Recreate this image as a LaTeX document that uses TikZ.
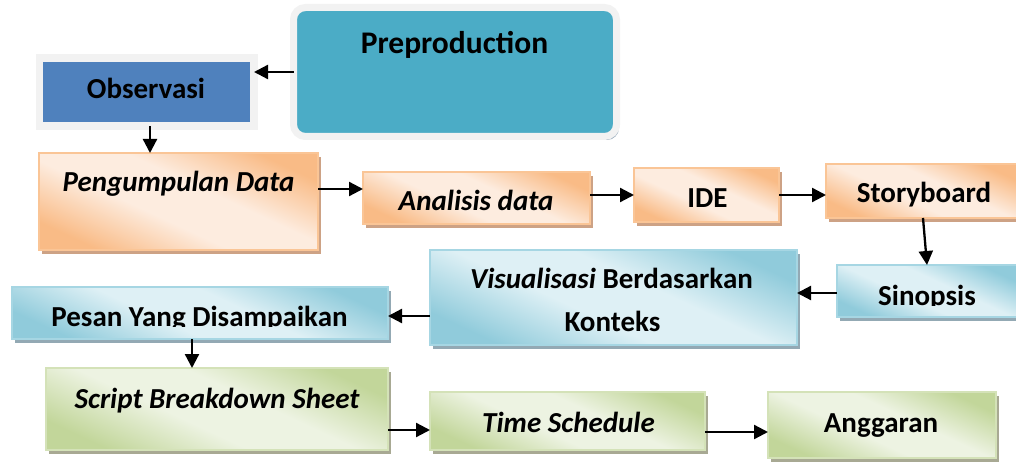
\documentclass[tikz,border=0pt]{standalone}
\usepackage{fontspec}
\setmainfont{Carlito}
\usetikzlibrary{arrows.meta,shadows}
\definecolor{teal1}{HTML}{4BACC6}
\definecolor{framec}{HTML}{F2F2F2}
\definecolor{obsblue}{HTML}{4F81BD}
\definecolor{fsh}{HTML}{9EB0C0}
\definecolor{obssh}{HTML}{96A5B6}
\definecolor{odark}{HTML}{F9BB86}
\definecolor{olight}{HTML}{FDECDF}
\definecolor{obord}{HTML}{FAC596}
\definecolor{osh}{HTML}{CDA285}
\definecolor{bdark}{HTML}{90CBDB}
\definecolor{blight}{HTML}{DEF0F5}
\definecolor{bbord}{HTML}{A6D6E3}
\definecolor{bsh}{HTML}{93A9B4}
\definecolor{gdark}{HTML}{C2D69A}
\definecolor{glight}{HTML}{EDF3E2}
\definecolor{gbord}{HTML}{D4E2B8}
\definecolor{gsh}{HTML}{A8A993}
\pgfdeclareverticalshading{oshade}{100bp}{color(0bp)=(odark); color(25bp)=(odark); color(43bp)=(olight); color(57bp)=(olight); color(75bp)=(odark); color(100bp)=(odark)}
\pgfdeclareverticalshading{bshade}{100bp}{color(0bp)=(bdark); color(25bp)=(bdark); color(43bp)=(blight); color(57bp)=(blight); color(75bp)=(bdark); color(100bp)=(bdark)}
\pgfdeclareverticalshading{gshade}{100bp}{color(0bp)=(gdark); color(25bp)=(gdark); color(43bp)=(glight); color(57bp)=(glight); color(75bp)=(gdark); color(100bp)=(gdark)}
\tikzset{
  box/.style={rectangle, inner sep=0pt, outer sep=0pt},
  prebox/.style={box, rounded corners=12pt, fill=teal1, draw=framec, line width=7pt,
    drop shadow={shadow xshift=2.5pt, shadow yshift=-3.5pt, fill=fsh, opacity=1}},
  obsbox/.style={box, fill=obsblue, draw=framec, line width=7.5pt,
    drop shadow={shadow xshift=3pt, shadow yshift=-3.5pt, fill=obssh, opacity=1}},
  orangebox/.style={box, draw=obord, line width=1.2pt, shading=oshade, shading angle=-25,
    drop shadow={shadow xshift=3pt, shadow yshift=-4pt, fill=osh, opacity=1}},
  bluebox/.style={box, draw=bbord, line width=1.2pt, shading=bshade, shading angle=-25,
    drop shadow={shadow xshift=3pt, shadow yshift=-4pt, fill=bsh, opacity=1}},
  greenbox/.style={box, draw=gbord, line width=1.2pt, shading=gshade, shading angle=-25,
    drop shadow={shadow xshift=3pt, shadow yshift=-4pt, fill=gsh, opacity=1}},
  txt/.style={font=\fontsize{29}{35}\selectfont\bfseries, anchor=base, inner sep=0pt},
  itxt/.style={font=\fontsize{29}{35}\selectfont\bfseries\itshape, anchor=base, inner sep=0pt},
  arr/.style={-{Triangle[length=14pt,width=14pt]}, line width=2.3pt, black}
}
\begin{document}
\begin{tikzpicture}[x=1pt,y=-1pt]
\useasboundingbox (0,0) rectangle (1016,462);
\fill[white] (0,0) rectangle (1016,462);
\clip (0,0) rectangle (1016,462);

% boxes
\node[prebox, minimum width=323pt, minimum height=129pt] (pre) at (455,72) {};
\node[obsbox, minimum width=214.5pt, minimum height=68pt] (obs) at (146.75,92) {};
\node[orangebox, minimum width=279pt, minimum height=97pt] (pd) at (178.5,201.5) {};
\node[orangebox, minimum width=227pt, minimum height=52pt] (ad) at (476.5,198) {};
\node[orangebox, minimum width=145pt, minimum height=54pt] (ide) at (706.5,195) {};
\node[orangebox, minimum width=194pt, minimum height=54pt] (sb) at (923,191) {};
\node[bluebox, minimum width=180pt, minimum height=52pt] (sin) at (927,291) {};
\node[bluebox, minimum width=367pt, minimum height=95pt] (vis) at (613.5,297.5) {};
\node[bluebox, minimum width=376pt, minimum height=52pt] (pes) at (200,313) {};
\node[greenbox, minimum width=342pt, minimum height=82pt] (sbs) at (217,409) {};
\node[greenbox, minimum width=275pt, minimum height=58pt] (ts) at (567.5,421) {};
\node[greenbox, minimum width=228pt, minimum height=66pt] (ang) at (882,425) {};

% texts
\node[txt, font=\fontsize{31.5}{36}\selectfont\bfseries] (pret) at (454.5,54) {Preproduction};
\node[txt] (obst) at (146,99) {Observasi};
\node[itxt] (pdt) at (178.5,192) {Pengumpulan Data};
\node[itxt] (adt) at (476,211) {Analisis data};
\node[txt] (idet) at (707.5,208) {IDE};
\node[txt] (sbt) at (924,203) {Storyboard};
\begin{scope}
  \clip (0,0) rectangle (1016,305.5);
  \node[txt] (sint) at (927,305) {Sinopsis};
\end{scope}
\node[txt] (vist1) at (611.5,288) {\textit{Visualisasi} Berdasarkan};
\node[txt] (vist2) at (612.5,331) {Konteks};
\begin{scope}
  \clip (0,0) rectangle (1016,326.5);
  \node[txt] (pest) at (199.5,326) {Pesan Yang Disampaikan};
\end{scope}
\node[itxt] (sbst) at (217,408) {Script Breakdown Sheet};
\node[itxt] (tst) at (568.5,432) {Time Schedule};
\node[txt] (angt) at (881,432) {Anggaran};

% connectors
\draw[arr] (pre.west) -- (pre.west -| obs.east);
\coordinate (o1) at ([xshift=3.25pt]obs.south);
\draw[arr] (o1) -- (o1 |- pd.north);
\draw[arr] ([yshift=12.5pt]pd.east) -- ([yshift=9pt]ad.west);
\draw[arr] ([yshift=3pt]ad.east) -- (ide.west);
\draw[arr] (ide.east) -- ([yshift=-4pt]sb.west);
\draw[arr] (sb.south) -- (sin.north);
\draw[arr] ([yshift=-2pt]sin.west) -- ([yshift=4.5pt]vis.east);
\draw[arr] ([yshift=-18.5pt]vis.west) -- ([yshift=-3pt]pes.east);
\draw[arr] ([xshift=-8pt]pes.south) -- ([xshift=-25pt]sbs.north);
\draw[arr] ([yshift=-21pt]sbs.east) -- ([yshift=-9pt]ts.west);
\draw[arr] ([yshift=-11pt]ts.east) -- ([yshift=-7pt]ang.west);
\end{tikzpicture}
\end{document}
